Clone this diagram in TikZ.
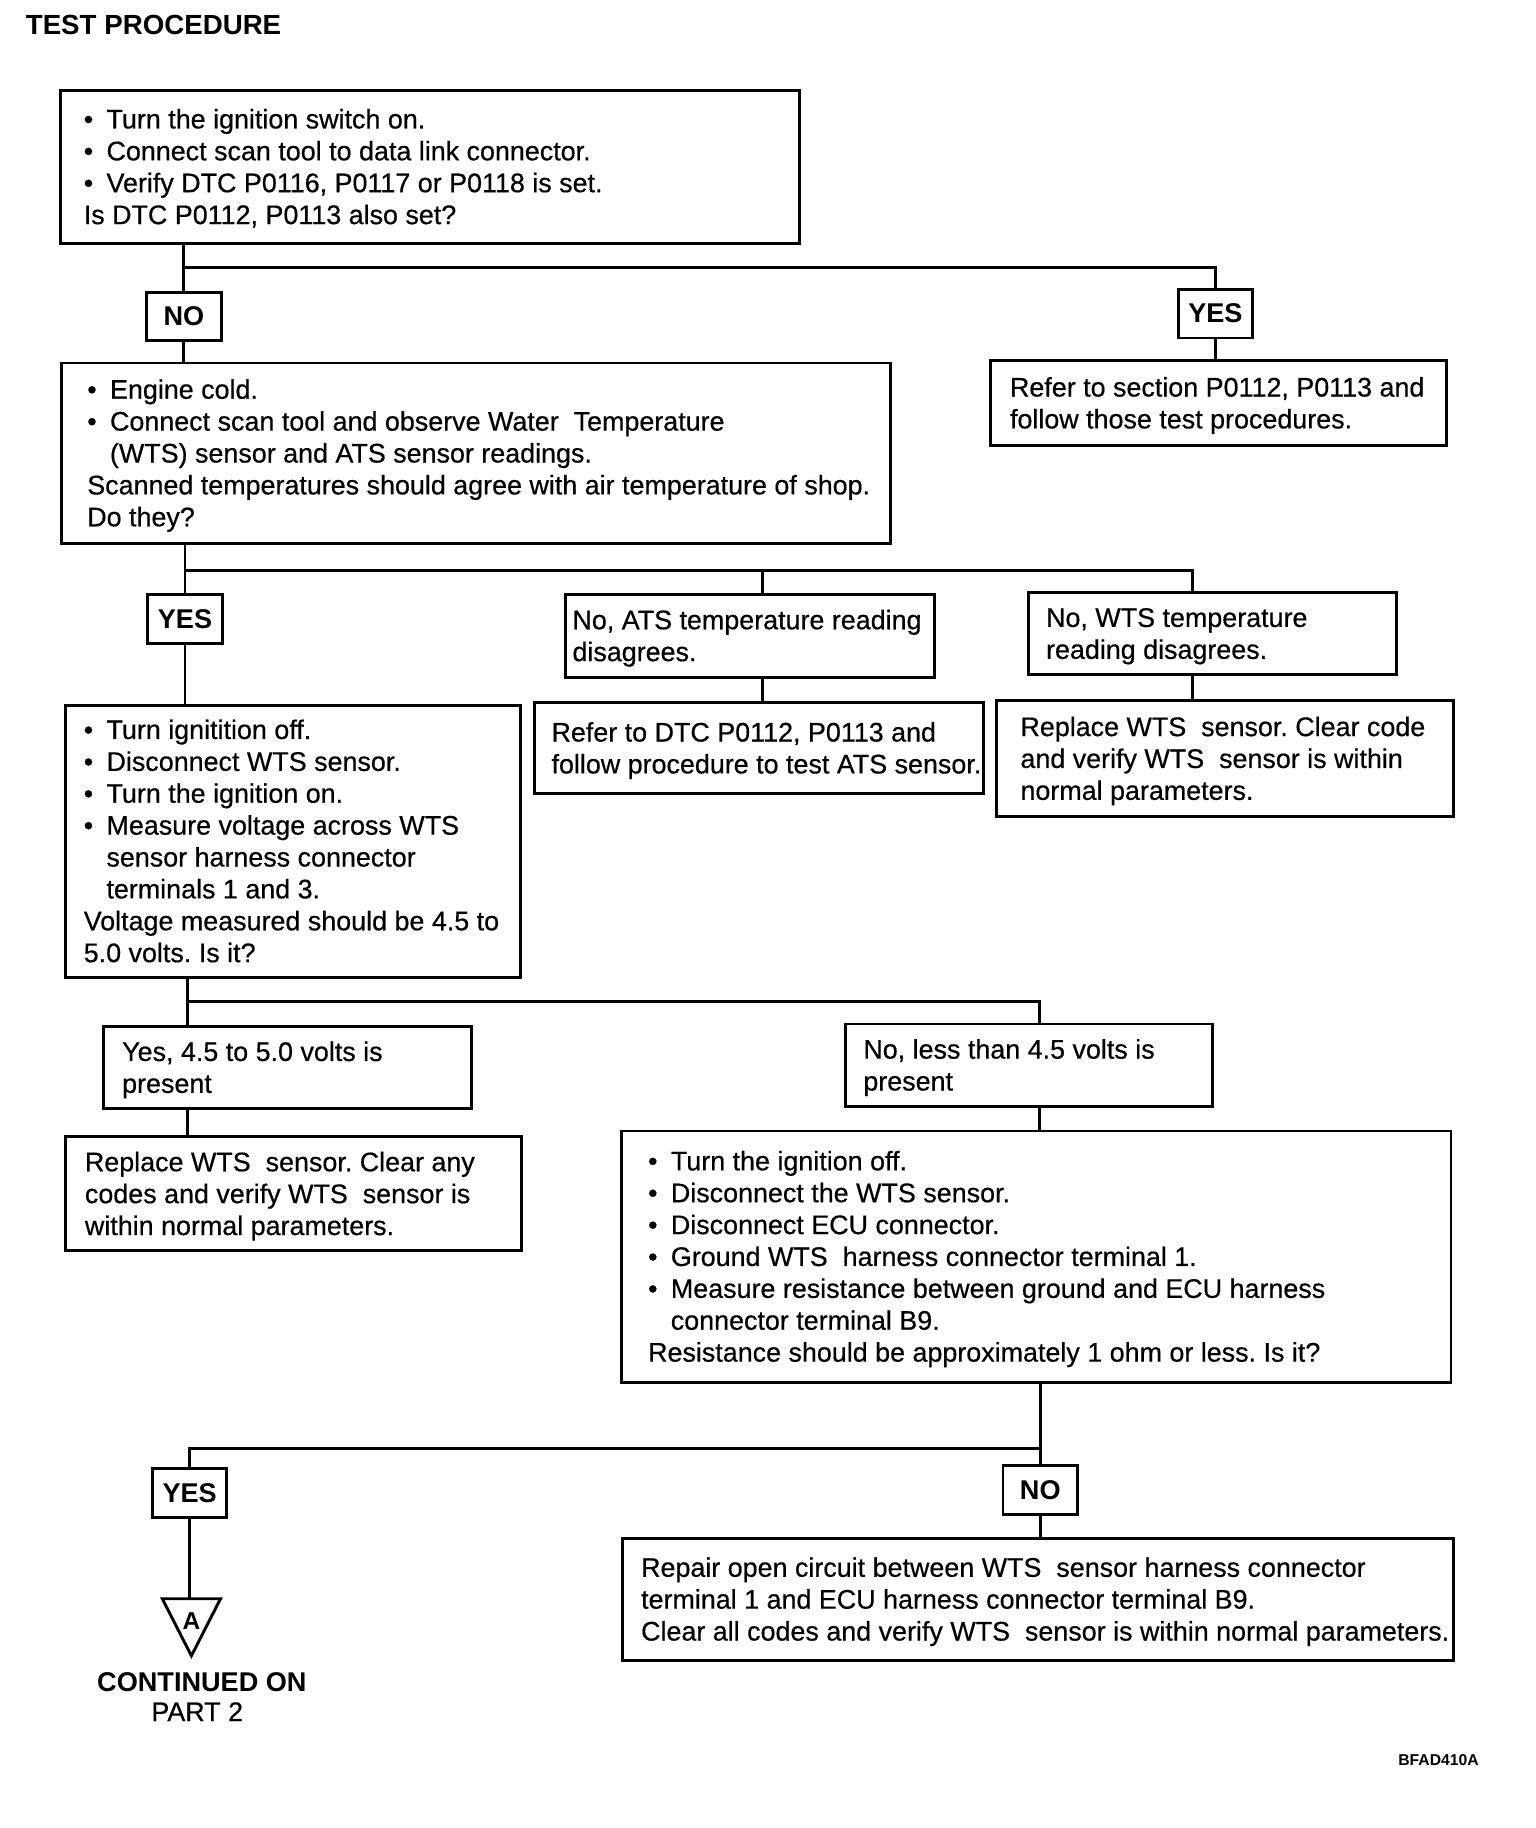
\documentclass[tikz,border=0pt]{standalone}
\usepackage{fontspec}
\setmainfont{Liberation Sans}
\newfontfamily\bodyfam{Liberation Sans}[FakeBold=0.5]
\frenchspacing
\newcommand\bodyfont{\fontsize{23.1}{27.4}\selectfont\bodyfam}
\newcommand\lblfont{\fontsize{23.3}{27.4}\selectfont\bfseries}
\newcommand\tx[2]{\makebox[#1pt][l]{\raisebox{-2.5pt}[\height][\depth]{\begin{tabular}{@{}l@{}}#2\end{tabular}}}}
\newcommand\bu{\textbullet\hspace{11.5pt}}
\newcommand\ind{\hspace{19.5pt}}
\begin{document}
\begin{tikzpicture}[x=1pt,y=-1pt,
  line/.style={line width=2.5pt},
  box/.style={draw, line width=2.5pt, rectangle, anchor=north west, inner ysep=0pt, outer sep=0pt, font=\bodyfont},
  lbl/.style={draw, line width=2.5pt, rectangle, minimum width=64pt, minimum height=42pt, inner sep=0pt, outer sep=0pt, font=\lblfont}]
\useasboundingbox (0,0) rectangle (1320,1571);
\node[anchor=base west, font=\fontsize{23.8}{27.4}\selectfont\bfseries, inner sep=0pt] (title) at (22,30) {TEST PROCEDURE};

% boxes
\node[box, inner xsep=20pt, minimum width=635pt, minimum height=131pt] (b1) at (52,78)
 {\tx{595}{\bu Turn the ignition switch on.\\ \bu Connect scan tool to data link connector.\\ \bu Verify DTC P0116, P0117 or P0118 is set.\\ Is DTC P0112, P0113 also set?}};
\node[box, inner xsep=17pt, minimum width=392pt, minimum height=73pt] (b3) at (851,310)
 {\tx{358}{Refer to section P0112, P0113 and\\ follow those test procedures.}};
\node[box, inner xsep=22pt, minimum width=712pt, minimum height=155pt] (b2) at (53,312)
 {\tx{668}{\bu Engine cold.\\ \bu Connect scan tool and observe Water\ \ Temperature\\ \ind(WTS) sensor and ATS sensor readings.\\ Scanned temperatures should agree with air temperature of shop.\\ Do they?}};
\node[box, inner xsep=6pt, minimum width=317pt, minimum height=71pt] (ats) at (486,511)
 {\tx{305}{No, ATS temperature reading\\ disagrees.}};
\node[box, inner xsep=15pt, minimum width=386pt, minimum height=78pt] (atsr) at (459,604)
 {\tx{356}{Refer to DTC P0112, P0113 and\\ follow procedure to test ATS sensor.}};
\node[box, inner xsep=15pt, minimum width=316pt, minimum height=71pt] (wts) at (884,509)
 {\tx{286}{No, WTS temperature\\ reading disagrees.}};
\node[box, inner xsep=21pt, minimum width=393pt, minimum height=100pt] (wtsr) at (856,602)
 {\tx{351}{Replace WTS\ \ sensor. Clear code\\ and verify WTS\ \ sensor is within\\ normal parameters.}};
\node[box, inner xsep=16pt, minimum width=391pt, minimum height=234pt] (b4) at (56,606)
 {\tx{359}{\bu Turn ignitition off.\\ \bu Disconnect WTS sensor.\\ \bu Turn the ignition on.\\ \bu Measure voltage across WTS\\ \ind sensor harness connector\\ \ind terminals 1 and 3.\\ Voltage measured should be 4.5 to\\ 5.0 volts. Is it?}};
\node[box, inner xsep=16pt, minimum width=316pt, minimum height=71pt] (yes45) at (89,882)
 {\tx{284}{Yes, 4.5 to 5.0 volts is\\ present}};
\node[box, inner xsep=17pt, minimum width=392pt, minimum height=98pt] (rep1) at (56,977)
 {\tx{358}{Replace WTS\ \ sensor. Clear any\\ codes and verify WTS\ \ sensor is\\ within normal parameters.}};
\node[box, inner xsep=15pt, minimum width=315pt, minimum height=71pt] (noless) at (727,880)
 {\tx{285}{No, less than 4.5 volts is\\ present}};
\node[box, inner xsep=23pt, minimum width=713pt, minimum height=216pt] (b5) at (534,972)
 {\tx{667}{\bu Turn the ignition off.\\ \bu Disconnect the WTS sensor.\\ \bu Disconnect ECU connector.\\ \bu Ground WTS\ \ harness connector terminal 1.\\ \bu Measure resistance between ground and ECU harness\\ \ind connector terminal B9.\\ Resistance should be approximately 1 ohm or less. Is it?}};
\node[box, inner xsep=16pt, minimum width=714pt, minimum height=105pt] (repair) at (535,1322)
 {\tx{682}{Repair open circuit between WTS\ \ sensor harness connector\\ terminal 1 and ECU harness connector terminal B9.\\ Clear all codes and verify WTS\ \ sensor is within normal parameters.}};

% labels
\node[lbl] (no1) at (158,272) {NO};
\node[lbl] (yes1) at (1044.5,269.5) {YES};
\node[lbl] (yes2) at (159,532) {YES};
\node[lbl] (yes3) at (163,1283) {YES};
\node[lbl] (no3) at (894,1280.5) {NO};

% coordinates
\coordinate (h1) at (0,230);
\coordinate (h2) at (0,490);
\coordinate (h3) at (0,861);
\coordinate (h4) at (0,1245);
\coordinate (v2) at (655,0);
\coordinate (v3) at (1025,0);
\coordinate (v4) at (161,0);
\coordinate (v5) at (893,0);
\coordinate (trit) at (164,1374);

% connectors
\draw[line] (b1.south -| no1) -- (no1.north);
\draw[line] (no1 |- h1) -| (yes1.north);
\draw[line] (no1.south) -- (no1 |- b2.north);
\draw[line] (yes1.south) -- (yes1 |- b3.north);

\draw[line] (b2.south -| yes2) -- (yes2.north);
\draw[line] (yes2 |- h2) -| (v3 |- wts.north);
\draw[line] (v2 |- h2) -- (v2 |- ats.north);
\draw[line] (yes2.south) -- (yes2 |- b4.north);
\draw[line] (v2 |- ats.south) -- (v2 |- atsr.north);
\draw[line] (v3 |- wts.south) -- (v3 |- wtsr.north);

\draw[line] (v4 |- b4.south) -- (v4 |- yes45.north);
\draw[line] (v4 |- h3) -| (v5 |- noless.north);
\draw[line] (v4 |- yes45.south) -- (v4 |- rep1.north);
\draw[line] (v5 |- noless.south) -- (v5 |- b5.north);

\draw[line] (b5.south -| no3) -- (no3.north);
\draw[line] (no3 |- h4) -| (yes3.north);
\draw[line] (no3.south) -- (no3 |- repair.north);
\draw[line] (yes3.south) -- (yes3 |- trit);

% off-page connector
\draw[line, line join=miter] (139.5,1374) -- (189.5,1374) -- (164.5,1423) -- cycle;
\node[font=\fontsize{21}{24}\selectfont\bfseries, inner sep=0pt] (markA) at (164.5,1393) {A};
\node[font=\lblfont, inner sep=0pt] (cont1) at (173.5,1446) {CONTINUED ON};
\node[font=\bodyfont, inner sep=0pt] (cont2) at (169.5,1471) {PART 2};

\node[anchor=base east, font=\fontsize{13.5}{16}\selectfont\bfseries, inner sep=0pt] (code) at (1271,1517) {BFAD410A};
\end{tikzpicture}
\end{document}
